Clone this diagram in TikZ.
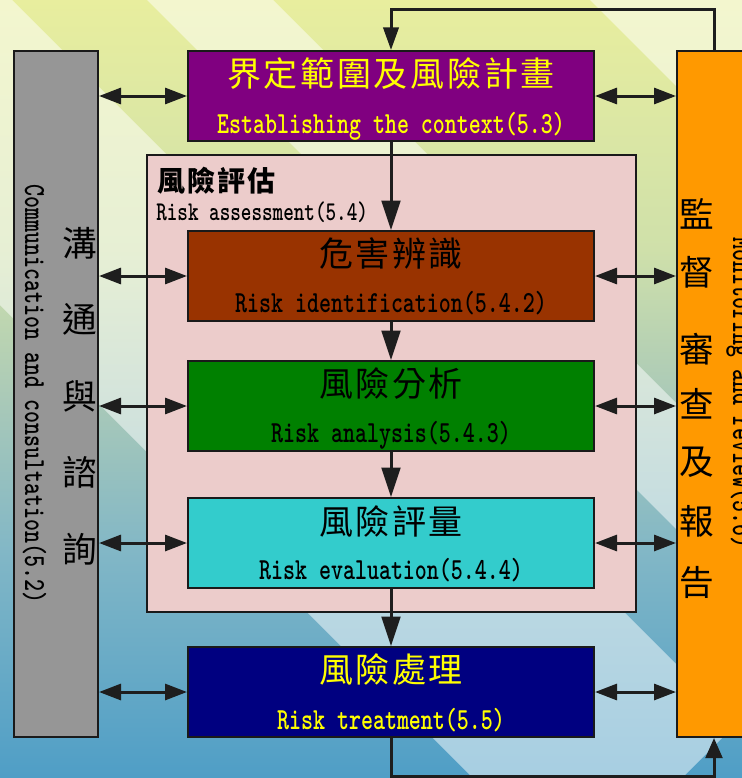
\documentclass[tikz,border=0pt]{standalone}
\usepackage{fontspec}
\usetikzlibrary{arrows.meta}
\newfontfamily\cjk{Noto Sans CJK TC}
\newfontfamily\lat[Extension=.otf, FakeStretch=0.745]{lmmonolt10-bold}
\definecolor{cpurple}{HTML}{800080}
\definecolor{cbrown}{HTML}{993300}
\definecolor{cgreen}{HTML}{008000}
\definecolor{ccyan}{HTML}{33CCCC}
\definecolor{cnavy}{HTML}{000080}
\definecolor{cgray}{HTML}{969696}
\definecolor{corange}{HTML}{FF9900}
\definecolor{cpink}{HTML}{ECCCCB}
\definecolor{edge}{HTML}{1A1A1A}
\definecolor{linec}{HTML}{1E1E1E}
\definecolor{cyel}{HTML}{FFFF00}
\definecolor{bgA}{HTML}{E8EE9E}
\definecolor{bgB}{HTML}{CFE0AA}
\definecolor{bgC}{HTML}{A9C9B8}
\definecolor{bgD}{HTML}{82B7C6}
\definecolor{bgE}{HTML}{4F9EC6}
\newcommand\ks{\kern2pt\relax}
\newcommand\kh{\kern1.5pt\relax}
\begin{document}
\begin{tikzpicture}[x=0.75pt,y=-0.75pt,
  box/.style={draw=edge, line width=1.5pt, minimum width=304.5pt, minimum height=67.5pt, inner sep=0pt},
  conn/.style={draw=linec, line width=2.25pt},
  dbl/.style={conn, {Triangle[length=16.5pt,width=12pt]}-{Triangle[length=16.5pt,width=12pt]}},
  dn/.style={conn, -{Triangle[length=22pt,width=14pt]}},
  zh/.style={inner sep=0pt, font=\cjk\fontsize{25.5}{30}\selectfont},
  zhv/.style={inner sep=0pt, font=\cjk\fontsize{26}{30}\selectfont},
  en/.style={inner sep=0pt, anchor=base, font=\lat\fontsize{23}{27}\selectfont},
  light/.style={fill=white, opacity=0.5}
]
\useasboundingbox (0,0) rectangle (742,778);
\begin{scope}
\clip (0,0) rectangle (742,778);
% background
\shade[top color=bgA, bottom color=bgB] (0,0) rectangle (742,251);
\shade[top color=bgB, bottom color=bgC] (0,250) rectangle (742,401);
\shade[top color=bgC, bottom color=bgD] (0,400) rectangle (742,551);
\shade[top color=bgD, bottom color=bgE] (0,550) rectangle (742,778);
\fill[light] (-305,0) -- (12,0) -- (736,724) -- (660,800) -- (495,800) -- cycle;
\fill[light] (147,0) -- (273,0) -- (1073,800) -- (947,800) -- cycle;
\fill[light] (590,0) -- (800,0) -- (800,210) -- cycle;

% side bars
\node[draw=edge, line width=1.5pt, fill=cgray, minimum width=63pt, minimum height=514.5pt, inner sep=0pt] (com) at (56,394) {};
\node[draw=edge, line width=1.5pt, fill=corange, minimum width=92.25pt, minimum height=514.5pt, inner sep=0pt] (mon) at (738.5,394) {};
% risk assessment frame
\node[draw=edge, line width=1.5pt, fill=cpink, minimum width=366.75pt, minimum height=342.75pt, inner sep=0pt] (ra) at (391.5,383.5) {};

% boxes
\node[box, fill=cpurple] (est) at (391,96) {};
\node[box, fill=cbrown] (rid) at (391,276) {};
\node[box, fill=cgreen] (ran) at (391,406) {};
\node[box, fill=ccyan] (rev) at (391,543) {};
\node[box, fill=cnavy] (trt) at (391,692) {};

% connectors
\foreach \n in {est,rid,ran,rev,trt}{
  \draw[dbl] (com.east |- \n.west) -- (\n.west);
  \draw[dbl] (\n.east) -- (mon.west |- \n.east);
}
\draw[dn] (est.south) -- (rid.north);
\draw[dn] (rid.south) -- (ran.north);
\draw[dn] (ran.south) -- (rev.north);
\draw[dn] (rev.south) -- (trt.north);
\coordinate (fbT) at (714,9);
\coordinate (fbB) at (714,776);
\draw[conn, -{Triangle[length=17pt,width=11.5pt]}] (fbT |- mon.north) -- (fbT) -| (est.north);
\draw[conn, -{Triangle[length=15pt,width=12.5pt]}] (trt.south) |- (fbB) -- (fbB |- mon.south);

% box texts
\node[zh, text=cyel] (estz) at (391,74) {界\ks{}定\ks{}範\ks{}圍\ks{}及\ks{}風\ks{}險\ks{}計\ks{}畫};
\node[en, text=cyel] (este) at (391,133) {Establishing the context(5.3)};
\node[zh] (ridz) at (391,254) {危\ks{}害\ks{}辨\ks{}識};
\node[en] (ride) at (391,312) {Risk identification(5.4.2)};
\node[zh] (ranz) at (391,384) {風\ks{}險\ks{}分\ks{}析};
\node[en] (rane) at (391,442) {Risk analysis(5.4.3)};
\node[zh] (revz) at (391,521) {風\ks{}險\ks{}評\ks{}量};
\node[en] (reve) at (391,579.5) {Risk evaluation(5.4.4)};
\node[zh, text=cyel] (trtz) at (391,670) {風\ks{}險\ks{}處\ks{}理};
\node[en, text=cyel] (trte) at (391,729) {Risk treatment(5.5)};

% risk assessment heading
\node[inner sep=0pt, anchor=west, font=\cjk\bfseries\fontsize{21}{25}\selectfont] (raz) at (157,181) {風\kh{}險\kh{}評\kh{}估};
\node[inner sep=0pt, anchor=base west, font=\lat\fontsize{20.3}{24}\selectfont] (rae) at (156,220) {Risk assessment(5.4)};

% communication bar texts
\node[en, rotate=-90] (come) at (25,394) {Communication and consultation(5.2)};
\node[zhv] (c1) at (80,243) {溝};
\node[zhv] (c2) at (80,319.5) {通};
\node[zhv] (c3) at (80,396) {與};
\node[zhv] (c4) at (80,472.5) {諮};
\node[zhv] (c5) at (80,549) {詢};

% monitoring bar texts
\node[en, rotate=-90] (mone) at (733,393) {Monitoring and review(5.6)};
\node[zhv] (m1) at (697,214) {監};
\node[zhv] (m2) at (697,272) {督};
\node[zhv] (m3) at (697,349) {審};
\node[zhv] (m4) at (697,404) {查};
\node[zhv] (m5) at (697,462) {及};
\node[zhv] (m6) at (697,521) {報};
\node[zhv] (m7) at (697,582) {告};
\end{scope}
\end{tikzpicture}
\end{document}
